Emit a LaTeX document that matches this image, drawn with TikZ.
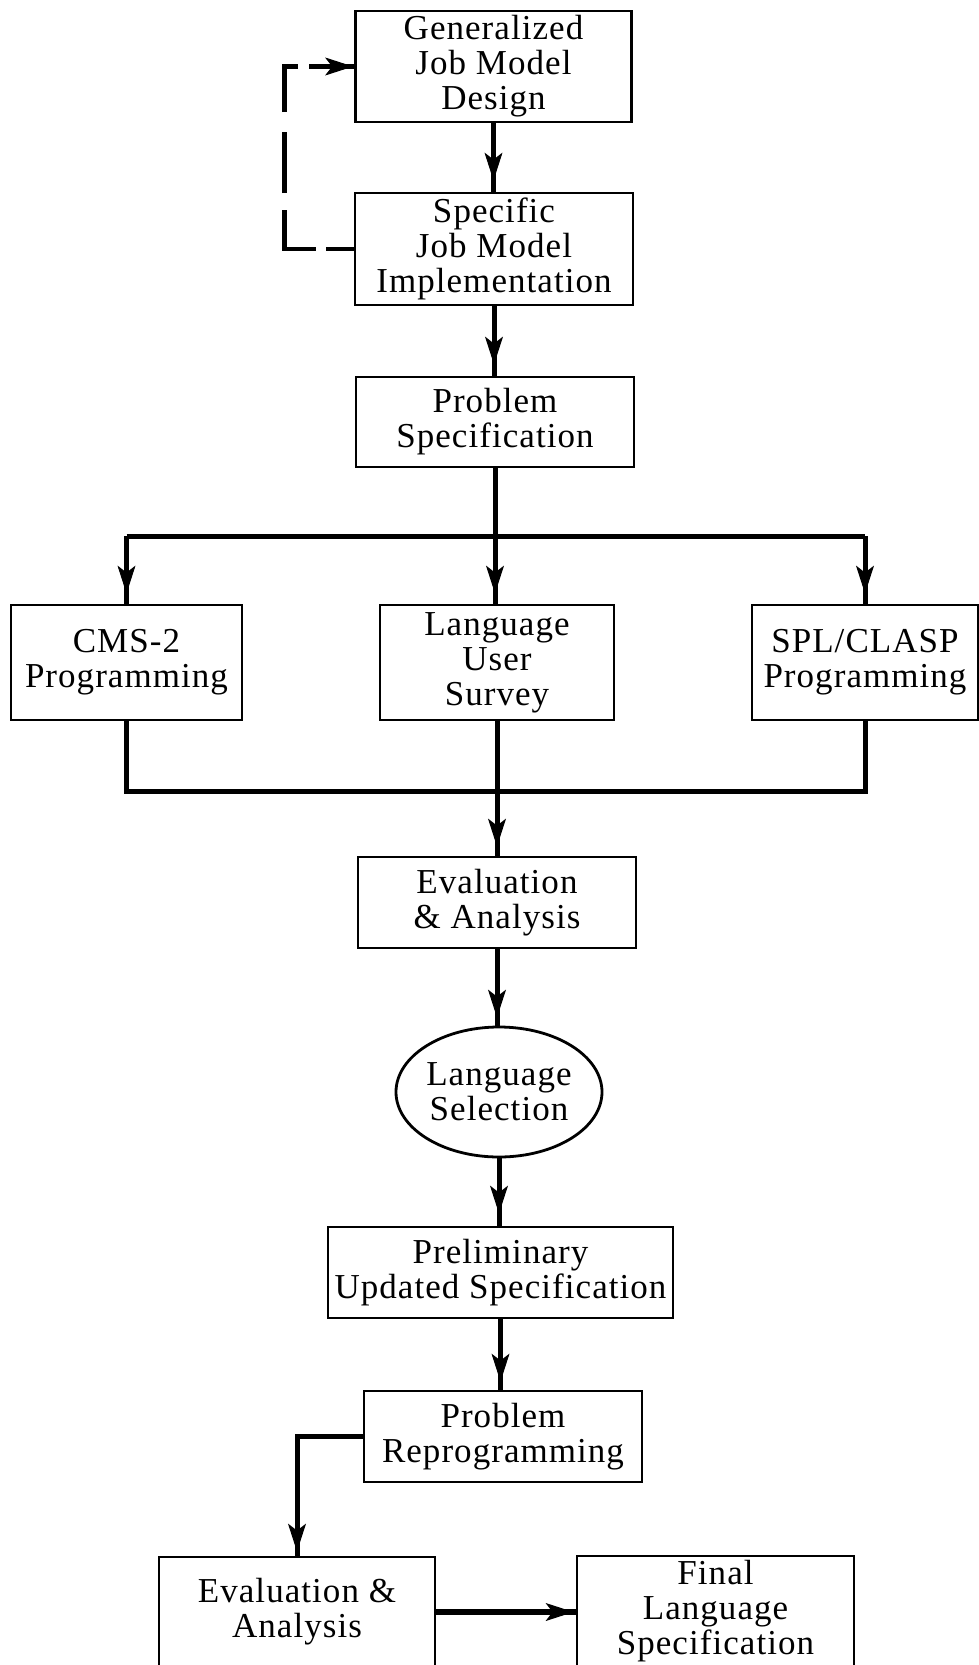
\documentclass[tikz,border=0pt]{standalone}
\usepackage{fontspec}
\setmainfont[LetterSpace=3]{Liberation Serif}
\usetikzlibrary{arrows.meta,decorations.markings,shapes.geometric}
\begin{document}
\begin{tikzpicture}[x=1pt,y=-1pt,
  box/.style={draw, line width=2.8pt, rectangle, align=center, inner sep=0pt,
    font=\fontsize{35}{35}\selectfont},
  oval/.style={draw, line width=2.8pt, ellipse, align=center, inner sep=0pt,
    font=\fontsize{35}{35}\selectfont},
  link/.style={line width=5pt},
  headat/.style={postaction={decorate}, decoration={markings,
    mark=at position #1 with {\arrow[solid, line width=1pt]{Stealth[length=28pt,width=18pt,inset=7pt]}}}},
  loopline/.style={line width=4.5pt,
    dash pattern=on 28pt off 10pt on 70pt off 17pt on 61pt off 20pt on 59pt off 11pt on 60pt off 10pt},
]
\useasboundingbox (0,0) rectangle (979,1665);
\fill[white] (0,0) rectangle (979,1665);

% process boxes
\node[box, minimum width=276pt, minimum height=111pt] (gen) at (493.5,66.5) {Generalized\\Job Model\\Design};
\node[box, minimum width=278pt, minimum height=112pt] (spec) at (494,249) {Specific\\Job Model\\Implementation};
\node[box, minimum width=278pt, minimum height=90pt] (prob) at (495,422) {Problem\\Specification};
\node[box, minimum width=231pt, minimum height=115pt] (cms) at (126.5,662.5) {CMS-2\\Programming};
\node[box, minimum width=234pt, minimum height=115pt] (lus) at (497,662.5) {Language\\User\\Survey};
\node[box, minimum width=226pt, minimum height=115pt] (spl) at (865,662.5) {SPL/CLASP\\Programming};
\node[box, minimum width=278pt, minimum height=91pt] (eval1) at (497,902.5) {Evaluation\\\& Analysis};
\node[oval, minimum width=206pt, minimum height=130pt] (sel) at (499,1092) {Language\\Selection};
\node[box, minimum width=345pt, minimum height=91pt] (prelim) at (500.5,1272.5) {Preliminary\\Updated Specification};
\node[box, minimum width=278pt, minimum height=91pt] (reprog) at (503,1436.5) {Problem\\Reprogramming};
\node[box, minimum width=276pt, minimum height=110pt] (eval2) at (297,1612) {Evaluation \&\\Analysis};
\node[box, minimum width=277pt, minimum height=111pt] (final) at (715.5,1611.5) {Final\\Language\\Specification};

% fork and join points of the three parallel activities
\coordinate (forkL) at (cms.north |- 0,536);
\coordinate (forkR) at (spl.north |- 0,536);
\coordinate (joinL) at (cms.south |- 0,791);
\coordinate (joinR) at (spl.south |- 0,791);

% feedback loop
\draw[loopline, headat=-1pt] (spec.west) -- ++(-69,0) |- (gen.west);

% main flow
\draw[link, headat=-11pt] (gen.south) -- (gen.south |- spec.north);
\draw[link, headat=-11pt] (spec.south) -- (spec.south |- prob.north);
\draw[link] (forkL) -- (forkR);
\draw[link, headat=-10pt] (prob.south) -- (prob.south |- lus.north);
\draw[link, headat=-10pt] (forkL) -- (cms.north);
\draw[link, headat=-10pt] (forkR) -- (spl.north);
\draw[link] (cms.south) -- (joinL) -- (joinR) -- (spl.south);
\draw[link, headat=-9pt] (lus.south) -- (lus.south |- eval1.north);
\draw[link, headat=-8pt] (eval1.south) -- (eval1.south |- sel.north);
\draw[link, headat=-12pt] (sel.south) -- (sel.south |- prelim.north);
\draw[link, headat=-8pt] (prelim.south) -- (prelim.south |- reprog.north);
\draw[link, headat=-4pt] (reprog.west) -| (eval2.north);
\draw[link, line width=6pt, headat=-2pt] (eval2.east |- 0,1612) -- (final.west |- 0,1612);
\end{tikzpicture}
\end{document}
